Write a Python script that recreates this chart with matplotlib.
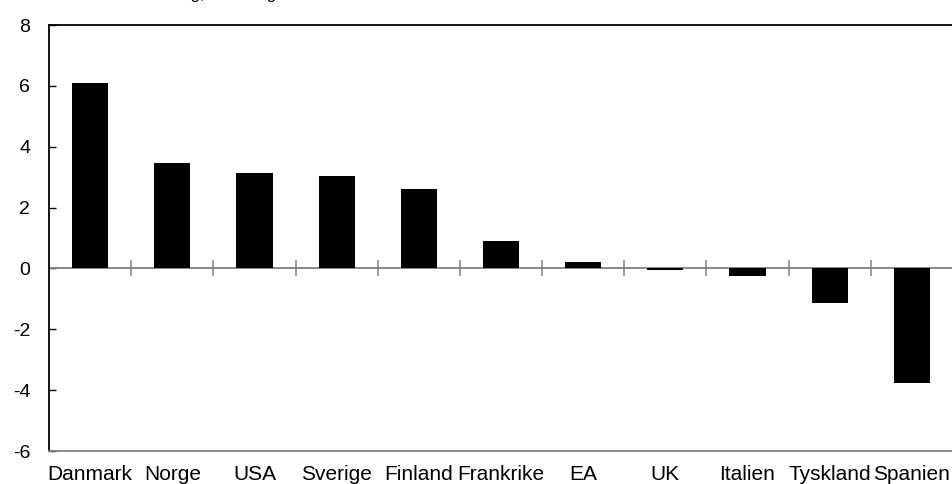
import numpy as np
import matplotlib
matplotlib.use("Agg")
import matplotlib.pyplot as plt

plt.rcParams['font.family'] = ['Liberation Sans', 'DejaVu Sans']

countries = ["Danmark", "Norge", "USA", "Sverige", "Finland", "Frankrike",
             "EA", "UK", "Italien", "Tyskland", "Spanien"]
values = [6.1, 3.45, 3.15, 3.05, 2.6, 0.9, 0.2, -0.05, -0.25, -1.15, -3.75]
yticks = [-6, -4, -2, 0, 2, 4, 6, 8]
title = "Procentuell förändring, snitt årlig"

W, H = 953, 484
fig = plt.figure(figsize=(W / 100, H / 100), dpi=100)
ax = fig.add_axes([49 / W, 1 - 451 / H, 904 / W, (451 - 25) / H])

x = np.arange(len(countries))
ax.bar(x, values, width=0.44, color='black', zorder=3)

ax.axhline(0, color='#808080', lw=1.3, zorder=2)
ax.plot(x[:-1] + 0.5, np.zeros(len(x) - 1), linestyle='none', marker='|',
        markersize=11, markeredgewidth=1.1, color='#808080', zorder=2)

ax.set_xlim(-0.5, len(countries) - 0.5)
ax.set_ylim(-6, 8)
ax.set_yticks(yticks)
ax.set_yticklabels([str(v) for v in yticks], fontsize=14)
ax.tick_params(axis='y', direction='in', length=5, width=1, pad=13.5)
ax.set_xticks(x)
ax.set_xticklabels(countries, fontsize=15)
ax.tick_params(axis='x', length=0, pad=10)

ax.spines['right'].set_visible(False)
ax.spines['top'].set_color('black')
ax.spines['top'].set_linewidth(1.3)
ax.spines['left'].set_color('black')
ax.spines['left'].set_linewidth(1.3)
ax.spines['bottom'].set_color('#808080')
ax.spines['bottom'].set_linewidth(1.3)

fig.text(36 / W, 1 + 0.5 / H, title, fontsize=12, ha='left', va='baseline')

fig.savefig("out.png", dpi=100)
